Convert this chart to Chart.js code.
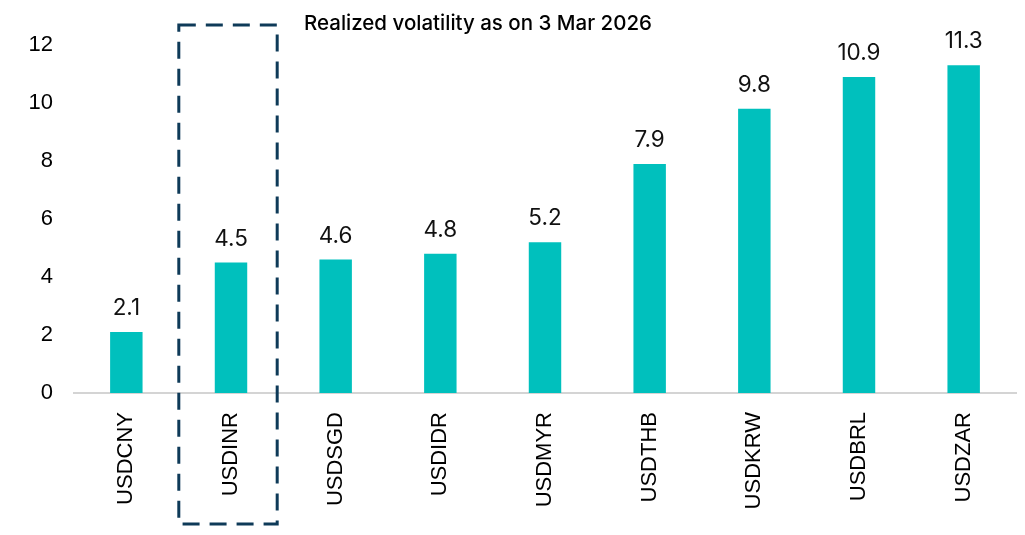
<!DOCTYPE html>
<html>
<head>
<meta charset="utf-8">
<script src="https://cdn.jsdelivr.net/npm/chart.js@4"></script>
<style>
  html, body { margin: 0; padding: 0; background: #fff; }
  #wrap { width: 1025px; height: 535px; position: relative; }
</style>
</head>
<body>
<div id="wrap"><canvas id="volChart"></canvas></div>
<script>
const pairs = ["USDCNY", "USDINR", "USDSGD", "USDIDR", "USDMYR", "USDTHB", "USDKRW", "USDBRL", "USDZAR"];
const realizedVol = [2.1, 4.5, 4.6, 4.8, 5.2, 7.9, 9.8, 10.9, 11.3];
const yTicks = [0, 2, 4, 6, 8, 10, 12];
const chartTitle = "Realized volatility as on 3 Mar 2026";
const highlightPair = "USDINR";

// value labels above each bar
const barLabels = {
  id: "barLabels",
  afterDatasetsDraw(chart) {
    const ctx = chart.ctx;
    const meta = chart.getDatasetMeta(0);
    ctx.save();
    ctx.font = "22.5px Inter, 'Liberation Sans', sans-serif";
    ctx.fillStyle = "#111";
    ctx.textAlign = "center";
    ctx.textBaseline = "alphabetic";
    meta.data.forEach((bar, i) => {
      ctx.fillText(realizedVol[i].toFixed(1), bar.x, bar.y - 17);
    });
    ctx.restore();
  }
};

// title text and the dashed box around the highlighted pair
const extras = {
  id: "extras",
  afterDraw(chart) {
    const ctx = chart.ctx;
    const x = chart.scales.x;
    ctx.save();
    ctx.font = "500 20.5px Inter, sans-serif";
    ctx.fillStyle = "#000";
    ctx.textAlign = "center";
    ctx.textBaseline = "middle";
    ctx.fillText(chartTitle, 478, 24);

    const idx = pairs.indexOf(highlightPair);
    const cx = x.getPixelForValue(idx) - 3;
    const half = (x.getPixelForValue(1) - x.getPixelForValue(0)) * 0.47;
    ctx.strokeStyle = "#0e3a58";
    ctx.lineWidth = 3;
    ctx.setLineDash([17, 10]);
    ctx.strokeRect(cx - half, 25, half * 2, 499);
    ctx.restore();
  }
};

new Chart(document.getElementById("volChart"), {
  type: "bar",
  data: {
    labels: pairs,
    datasets: [{
      data: realizedVol,
      backgroundColor: "#00c0bd",
      barPercentage: 0.31,
      categoryPercentage: 1
    }]
  },
  options: {
    responsive: true,
    maintainAspectRatio: false,
    animation: false,
    layout: { padding: { top: 45, right: 9, left: 0, bottom: 0 } },
    plugins: {
      legend: { display: false },
      tooltip: { enabled: false }
    },
    scales: {
      x: {
        grid: { display: false, drawTicks: false },
        border: { display: true, color: "#d4d4d4", width: 2 },
        ticks: {
          minRotation: 90,
          maxRotation: 90,
          padding: 19,
          color: "#000",
          font: { family: "'Liberation Sans', Arial, sans-serif", size: 22 }
        },
        afterFit(scale) { scale.height = 142; }
      },
      y: {
        min: 0,
        max: 12,
        grid: { display: false, drawTicks: false },
        border: { display: false },
        afterBuildTicks(scale) { scale.ticks = yTicks.map(v => ({ value: v })); },
        ticks: {
          padding: 21,
          color: "#000",
          font: { family: "'Liberation Sans', Arial, sans-serif", size: 22 }
        },
        afterFit(scale) { scale.width = 74; }
      }
    }
  },
  plugins: [barLabels, extras]
});
</script>
</body>
</html>
